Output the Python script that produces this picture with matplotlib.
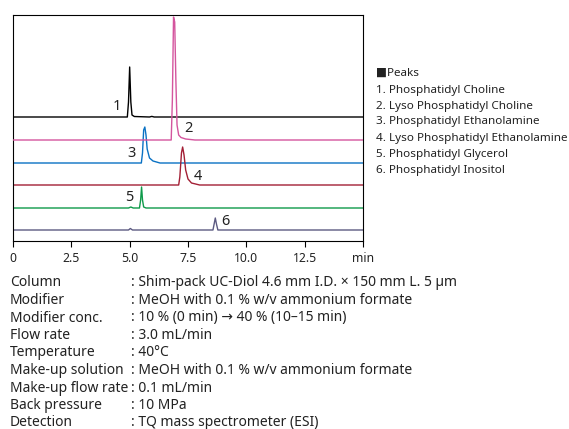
import matplotlib
matplotlib.use("Agg")
import matplotlib.pyplot as plt

plt.rcParams['font.family'] = ['Noto Sans', 'DejaVu Sans']

# retention time (min) / signal points, baseline = 0
T1 = [0, 4.9, 4.95, 5.0, 5.05, 5.1, 5.2, 5.85, 5.95, 6.05, 15]
S1 = [0, 0, 15, 50, 15, 2, 0.5, 0, 0.6, 0, 0]
T2 = [0, 6.78, 6.83, 6.88, 6.93, 6.98, 7.03, 7.1, 7.2, 7.4, 7.8, 15]
S2 = [0, 0, 40, 123, 118, 60, 15, 5, 2.5, 1, 0, 0]
T3 = [0, 5.5, 5.55, 5.6, 5.65, 5.7, 5.75, 5.85, 6.0, 6.3, 15]
S3 = [0, 0, 10, 33, 36, 28, 14, 5, 2, 0, 0]
T4 = [0, 7.1, 7.15, 7.22, 7.27, 7.33, 7.4, 7.5, 7.65, 8.0, 15]
S4 = [0, 0, 8, 32, 38, 30, 15, 6, 2, 0, 0]
T5 = [0, 4.95, 5.05, 5.15, 5.42, 5.47, 5.51, 5.55, 5.6, 5.7, 15]
S5 = [0, 0, 1, 0, 0, 8, 21, 8, 1, 0, 0]
T6 = [0, 4.95, 5.03, 5.12, 8.57, 8.62, 8.67, 8.72, 8.78, 15]
S6 = [0, 0, 1.5, 0, 0, 6, 12, 6, 0, 0]

OFFSETS = [124, 101, 78, 56, 33, 11]
COLORS = ["#000000", "#d4559e", "#0a72c4", "#a31f35", "#0e9a4a", "#5c5a82"]
PEAK_NUMS = ["1", "2", "3", "4", "5", "6"]
PEAK_LABEL_POS = [(4.45, 134), (7.5, 112), (5.06, 87), (7.93, 64), (4.97, 43), (9.09, 19)]

LEGEND_TITLE = "■Peaks"
LEGEND_ITEMS = [
    "1. Phosphatidyl Choline",
    "2. Lyso Phosphatidyl Choline",
    "3. Phosphatidyl Ethanolamine",
    "4. Lyso Phosphatidyl Ethanolamine",
    "5. Phosphatidyl Glycerol",
    "6. Phosphatidyl Inositol",
]

PARAM_NAMES = ["Column", "Modifier", "Modifier conc.", "Flow rate", "Temperature",
               "Make-up solution", "Make-up flow rate", "Back pressure", "Detection"]
PARAM_VALUES = [
    "Shim-pack UC-Diol 4.6 mm I.D. × 150 mm L. 5 µm",
    "MeOH with 0.1 % w/v ammonium formate",
    "10 % (0 min) → 40 % (10–15 min)",
    "3.0 mL/min",
    "40°C",
    "MeOH with 0.1 % w/v ammonium formate",
    "0.1 mL/min",
    "10 MPa",
    "TQ mass spectrometer (ESI)",
]

XTICKS = [0, 2.5, 5.0, 7.5, 10.0, 12.5, 15]
XTICK_LABELS = ["0", "2.5", "5.0", "7.5", "10.0", "12.5", "min"]

W, H = 569, 429
fig = plt.figure(figsize=(W / 100, H / 100), dpi=100)
ax = fig.add_axes([13 / W, 1 - 241 / H, 350 / W, 226 / H])

traces = [(T1, S1), (T2, S2), (T3, S3), (T4, S4), (T5, S5), (T6, S6)]
for i, (t, s) in enumerate(traces):
    y = [v + OFFSETS[i] for v in s]
    # pink trace sits on top of the black one
    z = 3 if i == 1 else 2
    ax.plot(t, y, color=COLORS[i], lw=1.0, zorder=z)
    px, py = PEAK_LABEL_POS[i]
    ax.text(px, py, PEAK_NUMS[i], fontsize=10.5, ha="center", va="center", color="#222222")

ax.set_xlim(0, 15)
ax.set_ylim(0, 226)
ax.set_yticks([])
ax.set_xticks(XTICKS)
ax.set_xticklabels(XTICK_LABELS, fontsize=8.8, color="#222222")
ax.tick_params(axis="x", direction="out", length=4, width=0.8, pad=4)
for sp in ax.spines.values():
    sp.set_linewidth(0.8)

# peak legend at the right
fig.text(376 / W, 1 - 73 / H, LEGEND_TITLE, fontsize=8.4, va="center", ha="left", color="#222222")
for k, item in enumerate(LEGEND_ITEMS):
    fig.text(376 / W, 1 - (90 + 16 * k) / H, item, fontsize=8.4, va="center", ha="left",
             color="#222222")

# analytical conditions under the chart
for k, (name, val) in enumerate(zip(PARAM_NAMES, PARAM_VALUES)):
    yy = 1 - (283 + 17.5 * k) / H
    fig.text(10 / W, yy, name, fontsize=10, va="center", ha="left", color="#222222")
    fig.text(131 / W, yy, ": " + val, fontsize=10, va="center", ha="left", color="#222222")

fig.savefig("out.png", dpi=100)
